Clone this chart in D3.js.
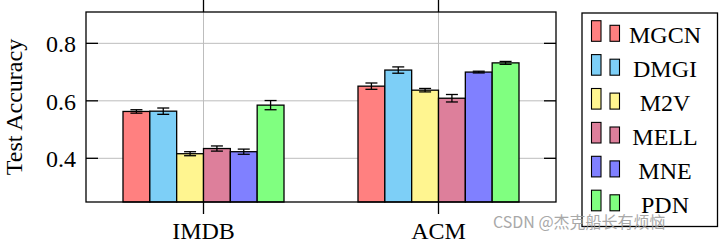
<!DOCTYPE html>
<html>
<head>
<meta charset="utf-8">
<script src="https://cdn.jsdelivr.net/npm/d3@7/dist/d3.min.js"></script>
<style>
  html, body { margin: 0; padding: 0; background: #fff; }
  svg { display: block; }
</style>
</head>
<body>
<div id="chart"></div>
<script>
// data
var datasets = ['IMDB', 'ACM'];
var methods = ['MGCN', 'DMGI', 'M2V', 'MELL', 'MNE', 'PDN'];
var colors = ['#ff8080', '#7dcff7', '#fff590', '#dd7f9b', '#8080ff', '#80ff80'];
var imdbMean = [0.563, 0.564, 0.416, 0.434, 0.423, 0.585];
var imdbErr  = [0.006, 0.011, 0.007, 0.009, 0.009, 0.016];
var acmMean  = [0.651, 0.707, 0.637, 0.609, 0.700, 0.732];
var acmErr   = [0.011, 0.011, 0.006, 0.013, 0.003, 0.005];
var yTicks = [0.4, 0.6, 0.8];

var SERIF = '"Liberation Serif", Tinos, "Times New Roman", serif';
var W = 720, H = 243;
var L = 86, R = 556, T = 12, B = 202;

var svg = d3.select('#chart').append('svg').attr('width', W).attr('height', H);

var x0 = d3.scalePoint().domain(datasets).range([L, R]).padding(0.5);
var x1 = d3.scaleBand().domain(methods).range([-80.5, 80.5]).padding(0);
var y = d3.scaleLinear().domain([0.248, 0.909]).range([B, T]);

// grid
var grid = svg.append('g').attr('stroke', '#bdbdbd').attr('stroke-width', 1);
yTicks.forEach(function (t) {
  grid.append('line').attr('x1', L).attr('x2', R).attr('y1', y(t)).attr('y2', y(t));
});
datasets.forEach(function (d) {
  grid.append('line').attr('x1', x0(d)).attr('x2', x0(d)).attr('y1', T).attr('y2', B);
});

// bars
var rows = [];
datasets.forEach(function (d, di) {
  var means = di === 0 ? imdbMean : acmMean;
  var errs = di === 0 ? imdbErr : acmErr;
  methods.forEach(function (m, mi) {
    rows.push({ ds: d, m: m, v: means[mi], e: errs[mi], c: colors[mi] });
  });
});

svg.append('g').selectAll('rect').data(rows).join('rect')
  .attr('x', function (d) { return x0(d.ds) + x1(d.m); })
  .attr('y', function (d) { return y(d.v); })
  .attr('width', x1.bandwidth())
  .attr('height', function (d) { return B - y(d.v); })
  .attr('fill', function (d) { return d.c; })
  .attr('stroke', '#000').attr('stroke-width', 1.3);

// error bars
var eb = svg.append('g').attr('stroke', '#000').attr('stroke-width', 1.3);
rows.forEach(function (d) {
  var cx = x0(d.ds) + x1(d.m) + x1.bandwidth() / 2;
  eb.append('line').attr('x1', cx).attr('x2', cx).attr('y1', y(d.v + d.e)).attr('y2', y(d.v - d.e));
  eb.append('line').attr('x1', cx - 6).attr('x2', cx + 6).attr('y1', y(d.v + d.e)).attr('y2', y(d.v + d.e));
  eb.append('line').attr('x1', cx - 6).attr('x2', cx + 6).attr('y1', y(d.v - d.e)).attr('y2', y(d.v - d.e));
});

// frame
svg.append('rect').attr('x', L).attr('y', T).attr('width', R - L).attr('height', B - T)
  .attr('fill', 'none').attr('stroke', '#000').attr('stroke-width', 1.3);

// y ticks inside on both sides, x ticks outside top and bottom
var ticks = svg.append('g').attr('stroke', '#000').attr('stroke-width', 1.3);
yTicks.forEach(function (t) {
  ticks.append('line').attr('x1', L).attr('x2', L + 12).attr('y1', y(t)).attr('y2', y(t));
  ticks.append('line').attr('x1', R - 12).attr('x2', R).attr('y1', y(t)).attr('y2', y(t));
});
datasets.forEach(function (d) {
  ticks.append('line').attr('x1', x0(d)).attr('x2', x0(d)).attr('y1', T - 12).attr('y2', T);
  ticks.append('line').attr('x1', x0(d)).attr('x2', x0(d)).attr('y1', B).attr('y2', B + 12);
});

svg.append('g').selectAll('text').data(yTicks).join('text')
  .attr('x', L - 10).attr('y', function (d) { return y(d) + 9; })
  .attr('text-anchor', 'end').style('font-family', SERIF).style('font-size', '24px')
  .text(function (d) { return d3.format('.1f')(d); });

svg.append('g').selectAll('text').data(datasets).join('text')
  .attr('x', function (d) { return x0(d); }).attr('y', 239)
  .attr('text-anchor', 'middle').style('font-family', SERIF).style('font-size', '24px')
  .text(function (d) { return d; });

svg.append('text')
  .attr('transform', 'translate(22,' + ((T + B) / 2) + ') rotate(-90)')
  .attr('text-anchor', 'middle').style('font-family', SERIF).style('font-size', '24px')
  .text('Test Accuracy');

// legend
var lg = svg.append('g');
lg.append('rect').attr('x', 582).attr('y', 13).attr('width', 135.5).attr('height', 213.5)
  .attr('fill', '#fff').attr('stroke', '#000').attr('stroke-width', 1.3);
methods.forEach(function (m, i) {
  var base = 41.3 + i * 33.9;
  lg.append('rect').attr('x', 591.5).attr('y', base - 20.6).attr('width', 9.5).attr('height', 20.6)
    .attr('fill', colors[i]).attr('stroke', '#000').attr('stroke-width', 1.1);
  lg.append('rect').attr('x', 610).attr('y', base - 16).attr('width', 9.5).attr('height', 16)
    .attr('fill', colors[i]).attr('stroke', '#000').attr('stroke-width', 1.1);
  lg.append('text').attr('x', 665).attr('y', base + 2).attr('text-anchor', 'middle')
    .style('font-family', SERIF).style('font-size', '24px').text(m);
});

// watermark
svg.append('text').attr('x', 493).attr('y', 228)
  .style('font-family', '"Noto Sans CJK SC", "Noto Sans", sans-serif')
  .style('font-size', '16px').style('fill', '#9a9a9a').attr('opacity', 0.85)
  .text('CSDN @杰克船长有烦恼');
</script>
</body>
</html>
